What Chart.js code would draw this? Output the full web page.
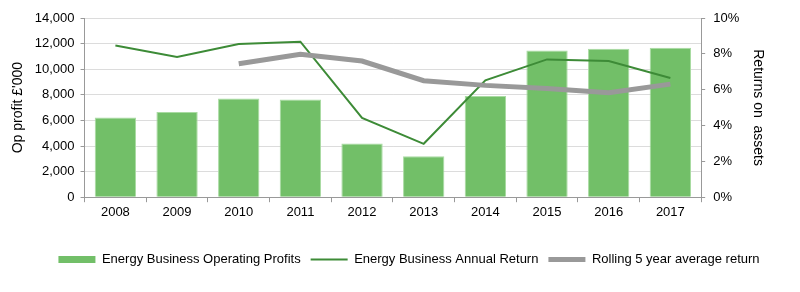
<!DOCTYPE html>
<html lang="en">
  <head>
    <meta charset="UTF-8" />
    <title>Energy Business Returns</title>
    <style>
      body {
        margin: 0;
        padding: 0;
        background: #ffffff;
      }
      .chart-box {
        width: 800px;
        height: 292px;
        position: relative;
      }
    </style>
  </head>
  <body>
    <div class="chart-box">
      <canvas id="returnsChart"></canvas>
    </div>

    <script src="https://cdn.jsdelivr.net/npm/chart.js"></script>
    <script>
      const years = ["2008", "2009", "2010", "2011", "2012", "2013", "2014", "2015", "2016", "2017"];
      const operatingProfits = [6230, 6650, 7720, 7640, 4200, 3190, 7900, 11470, 11600, 11680];
      const annualReturn = [8.47, 7.82, 8.55, 8.68, 4.43, 2.98, 6.52, 7.69, 7.6, 6.65];
      const rollingAverage = [null, null, 7.45, 7.97, 7.6, 6.5, 6.24, 6.07, 5.83, 6.31];

      Chart.defaults.font.family = "'Liberation Sans', Arial, sans-serif";
      Chart.defaults.font.size = 13;
      Chart.defaults.color = "#000000";

      const canvas = document.getElementById("returnsChart");

      // nudge the legend row to the right, as in the original
      const legendShift = {
        id: "legendShift",
        afterLayout(chart) {
          chart.legend.left += 21;
          chart.legend.right += 21;
        },
      };

      new Chart(canvas, {
        type: "bar",
        data: {
          labels: years,
          datasets: [
            {
              label: "Energy Business Annual Return",
              type: "line",
              data: annualReturn,
              yAxisID: "yRight",
              borderColor: "#3d8b37",
              backgroundColor: "#3d8b37",
              borderWidth: 2,
              pointRadius: 0,
              tension: 0,
              order: 1,
            },
            {
              label: "Rolling 5 year average return",
              type: "line",
              data: rollingAverage,
              yAxisID: "yRight",
              borderColor: "#999999",
              backgroundColor: "#999999",
              borderWidth: 5,
              pointRadius: 0,
              tension: 0,
              order: 0,
            },
            {
              label: "Energy Business Operating Profits",
              data: operatingProfits,
              yAxisID: "yLeft",
              backgroundColor: "#72bf68",
              borderColor: "#a9dba2",
              borderWidth: 1,
              categoryPercentage: 1,
              barPercentage: 0.67,
              order: 2,
            },
          ],
        },
        plugins: [legendShift],
        options: {
          responsive: true,
          maintainAspectRatio: false,
          animation: false,
          layout: {
            padding: { left: 8, right: 32, top: 18, bottom: 16 },
          },
          plugins: {
            tooltip: { enabled: false },
            legend: {
              position: "bottom",
              title: {
                display: true,
                text: " ",
                font: { size: 6 },
                padding: { top: 0, bottom: 14 },
              },
              labels: {
                usePointStyle: true,
                pointStyleWidth: 37,
                boxHeight: 7,
                padding: 10,
                generateLabels: (chart) => {
                  const items = Chart.defaults.plugins.legend.labels.generateLabels(chart);
                  items.forEach((item) => {
                    if (item.datasetIndex === 2) {
                      item.pointStyle = "rect";
                      item.lineWidth = 0;
                      item.strokeStyle = "rgba(0,0,0,0)";
                    } else {
                      item.pointStyle = "line";
                    }
                  });
                  const rank = [2, 0, 1];
                  items.sort((a, b) => rank.indexOf(a.datasetIndex) - rank.indexOf(b.datasetIndex));
                  return items;
                },
              },
            },
          },
          scales: {
            x: {
              offset: true,
              grid: {
                display: true,
                drawOnChartArea: false,
                offset: true,
                color: "#999999",
                tickLength: 5,
              },
              border: { color: "#999999" },
              ticks: { padding: 2 },
            },
            yLeft: {
              position: "left",
              min: 0,
              max: 14000,
              ticks: {
                stepSize: 2000,
                padding: 6,
                callback: (v) => v.toLocaleString("en-GB"),
              },
              grid: {
                color: "#dcdcdc",
                tickLength: 4,
                tickColor: "#999999",
              },
              border: { color: "#999999" },
              title: {
                display: true,
                text: "Op profit £'000",
                font: { size: 14 },
                padding: 2,
              },
            },
            yRight: {
              position: "right",
              min: 0,
              max: 10,
              ticks: {
                stepSize: 2,
                padding: 8,
                callback: (v) => v + "%",
              },
              grid: {
                drawOnChartArea: false,
                tickLength: 4,
                tickColor: "#999999",
              },
              border: { color: "#999999" },
              title: {
                display: true,
                text: "Returns on  assets",
                font: { size: 14 },
                padding: 2,
              },
            },
          },
        },
      });
    </script>
  </body>
</html>
